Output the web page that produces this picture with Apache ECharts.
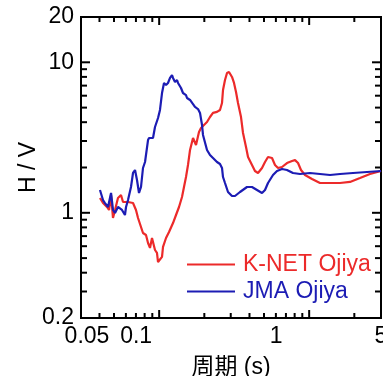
<!DOCTYPE html>
<html>
<head>
<meta charset="utf-8">
<script src="https://cdn.jsdelivr.net/npm/echarts@6/dist/echarts.min.js"></script>
<style>
html, body { margin: 0; padding: 0; background: #fff; }
#chart_hv { width: 383px; height: 376px; }
</style>
</head>
<body>
<div id="chart_hv"></div>
<script>
// K-NET Ojiya : period (s) / H/V
var knetPeriod = [0.0669,0.0701,0.0745,0.0769,0.0793,0.0817,0.0843,0.0882,0.0924,0.0953,0.0982,0.1029,0.1061,0.1111,0.1163,0.1200,
    0.1256,0.1295,0.1356,0.1399,0.1442,0.1487,0.1510,0.1557,0.1605,0.1631,0.1681,0.1734,0.1761,0.1844,0.1931,0.2053,0.2150,0.2251,
    0.2357,0.2430,0.2506,0.2584,0.2666,0.2791,0.2922,0.3059,0.3155,0.3253,0.3459,0.3622,0.3793,0.4033,0.4223,0.4355,0.4423,0.456,
    0.4703,0.485,0.5077,0.5237,0.5400,0.5568,0.5831,0.6013,0.6296,0.6493,0.6902,0.7225,0.7568,0.8049,0.8427,0.8824,0.9383,0.9825,
    1.029,1.094,1.181,1.276,1.336,1.399,1.464,1.557,1.734,1.96,2.286,2.666,3.107,3.622,4.224,5.0];
var knetHV = [1.254,1.161,1.093,1.044,1.313,0.924,1.044,1.254,1.313,1.180,1.216,1.180,1.216,1.161,1.044,0.924,
    0.805,0.734,0.712,0.630,0.584,0.680,0.640,0.566,0.541,0.471,0.464,0.509,0.593,0.680,0.745,0.855,0.967,1.093,
    1.274,1.484,1.729,2.078,2.615,3.14,2.82,3.44,3.66,3.55,4.01,4.33,4.61,4.68,4.82,5.36,6.55,7.63,
    8.49,8.62,7.99,7.29,6.35,5.36,4.33,3.39,2.736,2.349,2.078,1.896,1.839,1.985,2.175,2.349,2.312,2.078,
    1.985,2.015,2.142,2.209,2.24,2.142,1.925,1.783,1.678,1.578,1.578,1.578,1.603,1.703,1.811,1.896];

// JMA Ojiya
var jmaPeriod = [0.0669,0.0701,0.0723,0.0757,0.0793,0.0817,0.0843,0.0882,0.0938,0.0982,0.0998,0.1029,0.1077,0.1111,0.1146,0.1181,
    0.1218,0.1256,0.1295,0.1336,0.1399,0.1421,0.1510,0.1557,0.1631,0.1681,0.1734,0.1788,0.1844,0.1901,0.1961,0.2022,0.2053,0.2117,
    0.2183,0.2217,0.2321,0.2393,0.2506,0.2545,0.2666,0.2791,0.2877,0.3013,0.3107,0.3205,0.3253,0.3459,0.3622,0.3793,0.4033,0.4223,
    0.4355,0.4423,0.456,0.4775,0.5077,0.5316,0.5741,0.6391,0.6902,0.7452,0.8049,0.8427,0.8824,0.9528,1.013,1.094,1.181,1.295,
    1.442,1.681,1.96,2.286,2.666,3.254,4.034,5.0];
var jmaHV = [1.418,1.216,1.161,1.093,1.354,1.044,0.997,1.093,1.044,0.967,1.093,1.216,1.484,1.839,1.925,1.652,
    1.354,1.484,1.985,2.175,3.045,3.14,3.14,3.717,4.265,4.822,6.25,7.29,7.07,7.29,7.87,8.23,7.87,7.40,
    7.63,7.29,6.75,6.25,6.06,5.79,5.62,5.28,5.05,4.89,4.61,3.83,3.29,2.615,2.42,2.312,2.175,2.11,
    1.985,1.729,1.578,1.375,1.293,1.293,1.375,1.484,1.484,1.418,1.354,1.418,1.578,1.783,1.896,1.954,1.925,1.839,
    1.811,1.839,1.811,1.783,1.811,1.839,1.867,1.896];

var seriesNames = ['K-NET Ojiya', 'JMA Ojiya'];
var xLabels = [0.05, 0.1, 1, 5];
var yLabels = [0.2, 1, 10, 20];
var xMajorTicks = [0.166, 1.66];
var xMinorTicks = [0.0664, 0.083, 0.0996, 0.1162, 0.1328, 0.1494, 0.332, 0.498, 0.664, 0.83, 0.996, 1.162, 1.328, 1.494, 3.32];
var yMajorTicks = [1, 10];
var yMinorTicks = [0.3, 0.4, 0.5, 0.6, 0.7, 0.8, 0.9, 2, 3, 4, 5, 6, 7, 8, 9];

var xr = { min: 0.05, max: 5 };
var yr = { min: 0.2, max: 20 };

function zip(a, b) {
    var out = [];
    for (var i = 0; i < a.length; i++) out.push([a[i], b[i]]);
    return out;
}

var fontFam = '"Liberation Sans", Arial, "Noto Sans CJK SC", sans-serif';
var red = '#ec2a2a';
var blue = '#1c1cb4';

// inward ticks on both sides of the frame (x ticks: bottom+top, y ticks: left+right)
function tickSeries(isX, values, len) {
    var data = [];
    for (var i = 0; i < values.length; i++) {
        data.push(isX ? [values[i], yr.min] : [xr.min, values[i]]);
    }
    return {
        type: 'custom',
        silent: true,
        z: 5,
        data: data,
        renderItem: function (params, api) {
            var v = isX ? api.value(0) : api.value(1);
            var a = isX ? api.coord([v, yr.min]) : api.coord([xr.min, v]);
            var b = isX ? api.coord([v, yr.max]) : api.coord([xr.max, v]);
            var st = { stroke: '#000', lineWidth: 2 };
            if (isX) {
                return { type: 'group', children: [
                    { type: 'line', shape: { x1: a[0], y1: a[1], x2: a[0], y2: a[1] - len }, style: st },
                    { type: 'line', shape: { x1: b[0], y1: b[1], x2: b[0], y2: b[1] + len }, style: st }
                ] };
            }
            return { type: 'group', children: [
                { type: 'line', shape: { x1: a[0], y1: a[1], x2: a[0] + len, y2: a[1] }, style: st },
                { type: 'line', shape: { x1: b[0], y1: b[1], x2: b[0] - len, y2: b[1] }, style: st }
            ] };
        }
    };
}

var myChart = echarts.init(document.getElementById('chart_hv'));

option = {
    animation: false,
    grid: { left: 81, right: 2, top: 17, bottom: 58, outerBoundsMode: 'none', show: true, borderColor: '#000', borderWidth: 2 },
    legend: {
        orient: 'vertical',
        left: 187,
        top: 253,
        padding: 0,
        icon: 'rect',
        itemWidth: 48,
        itemHeight: 2,
        itemGap: 4,
        selectedMode: false,
        textStyle: { fontSize: 23, fontFamily: fontFam, padding: [0, 0, 0, 3] },
        data: [
            { name: seriesNames[0], textStyle: { color: red } },
            { name: seriesNames[1], textStyle: { color: blue } }
        ]
    },
    xAxis: {
        type: 'log',
        logBase: 10,
        min: xr.min,
        max: xr.max,
        name: '周期 (s)',
        nameLocation: 'middle',
        nameGap: 38,
        nameTextStyle: { fontSize: 23, color: '#000', fontFamily: fontFam },
        axisLine: { show: false },
        axisTick: { show: false },
        splitLine: { show: false },
        axisLabel: {
            show: true, customValues: xLabels, margin: 7, fontSize: 23, color: '#000', fontFamily: fontFam,
            formatter: function (v) {
                if (Math.abs(v - 0.05) < 1e-6) return '{a|0.05}';
                if (Math.abs(v - 0.1) < 1e-6) return '{b|0.1}';
                return String(Math.round(v));
            },
            rich: {
                a: { fontSize: 23, fontFamily: fontFam, color: '#000', padding: [0, 0, 0, 12] },
                b: { fontSize: 23, fontFamily: fontFam, color: '#000', padding: [0, 0, 0, 20] }
            }
        }
    },
    yAxis: {
        type: 'log',
        logBase: 10,
        min: yr.min,
        max: yr.max,
        name: 'H / V',
        nameLocation: 'middle',
        nameGap: 41,
        nameMoveOverlap: false,
        nameTextStyle: { fontSize: 23, color: '#000', fontFamily: fontFam },
        axisLine: { show: false },
        axisTick: { show: false },
        splitLine: { show: false },
        axisLabel: {
            show: true, customValues: yLabels, margin: 7, fontSize: 23, color: '#000', fontFamily: fontFam,
            formatter: function (v) { return String(Math.round(v * 10) / 10); }
        }
    },
    series: [
        {
            name: seriesNames[0], type: 'line',
            showSymbol: false, symbol: 'none', smooth: false,
            lineStyle: { color: red, width: 2.2 }, itemStyle: { color: red },
            data: zip(knetPeriod, knetHV)
        },
        {
            name: seriesNames[1], type: 'line',
            showSymbol: false, symbol: 'none', smooth: false,
            lineStyle: { color: blue, width: 2.2 }, itemStyle: { color: blue },
            data: zip(jmaPeriod, jmaHV)
        },
        tickSeries(true, xMajorTicks, 8),
        tickSeries(true, xMinorTicks, 5),
        tickSeries(false, yMajorTicks, 9),
        tickSeries(false, yMinorTicks, 6)
    ]
};
myChart.setOption(option);
</script>
</body>
</html>
